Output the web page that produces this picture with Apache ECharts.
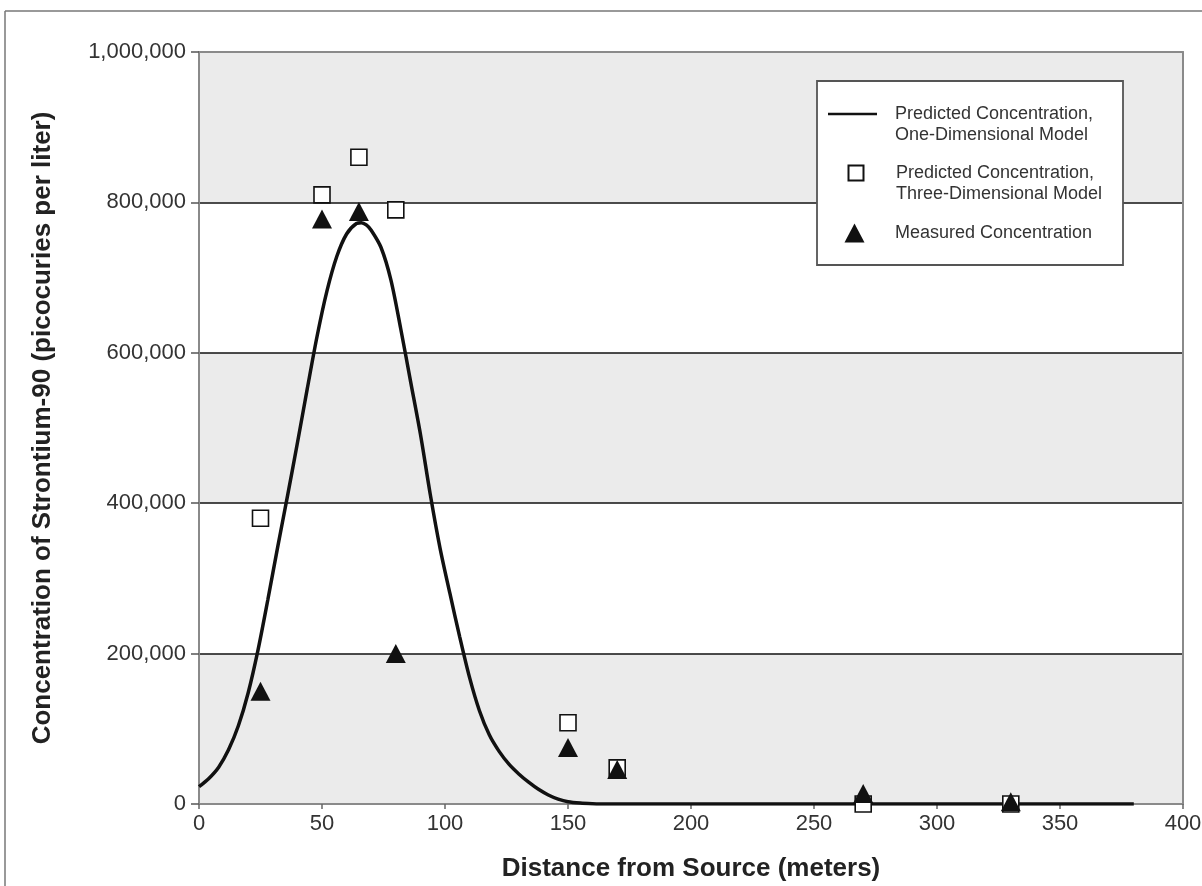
<!DOCTYPE html>
<html>
<head>
<meta charset="utf-8">
<script src="https://cdn.jsdelivr.net/npm/echarts@6/dist/echarts.min.js"></script>
<style>
html,body{margin:0;padding:0;background:#fff;}
#chart{width:1202px;height:886px;}
</style>
</head>
<body>
<div id="chart"></div>
<script>
// ---- data ----
const curveX = [0,4,8,12,16,20,24,28,32,36,40,44,48,52,56,60,64,66,68,70,74,78,82,86,90,94,98,102,106,110,114,118,122,126,130,134,138,142,146,150,155,160,165,380];
const curveY = [23000,34000,49000,72000,104000,148000,205000,272000,342000,410000,480000,552000,622000,682000,728000,758000,772000,773000,770000,763000,740000,697000,632000,562000,492000,412000,340000,280000,222000,168000,124000,92000,70000,53000,40000,29000,19500,12000,6500,3000,1200,400,0,0];
const squareX = [25,50,65,80,150,170,270,330];
const squareY = [380000,810000,860000,790000,108000,48000,0,0];
const triX = [25,50,65,80,150,170,270,330];
const triY = [150000,778000,788000,200000,75000,46000,14000,3000];
const yTickLabels = ['0','200,000','400,000','600,000','800,000','1,000,000'];
const xTickLabels = ['0','50','100','150','200','250','300','350','400'];
const seriesNames = ['Predicted Concentration, One-Dimensional Model','Predicted Concentration, Three-Dimensional Model','Measured Concentration'];
const legendTexts = [['Predicted Concentration,','One-Dimensional Model'],['Predicted Concentration,','Three-Dimensional Model'],['Measured Concentration']];
const xTitle = 'Distance from Source (meters)';
const yTitle = 'Concentration of Strontium-90 (picocuries per liter)';

const font = "'Liberation Sans', Arial, sans-serif";
const zip = (a,b) => a.map((v,i)=>[v,b[i]]);

const chart = echarts.init(document.getElementById('chart'), null, {renderer:'canvas'});
const legendText = {fontSize:18, color:'#333', fontFamily:font, lineHeight:21};
chart.setOption({
  animation:false,
  backgroundColor:'#fff',
  grid:{left:199,right:19,top:52,bottom:82,show:false,containLabel:false,outerBoundsMode:'none'},
  xAxis:[{
    type:'value',min:0,max:400,interval:50,position:'bottom',
    axisLine:{show:true,onZero:false,lineStyle:{color:'#8a8a8a',width:2}},
    axisTick:{show:true,length:5,lineStyle:{color:'#666',width:1.5}},
    axisLabel:{fontSize:22,color:'#333',fontFamily:font,margin:9,
      formatter:(v)=>xTickLabels[Math.round(v/50)]},
    splitLine:{show:false},
    name:xTitle,nameLocation:'middle',nameGap:52,
    nameTextStyle:{fontSize:26,fontWeight:'bold',color:'#222',fontFamily:font}
  },{
    type:'value',min:0,max:400,position:'top',
    axisLine:{show:true,onZero:false,lineStyle:{color:'#8a8a8a',width:2}},
    axisTick:{show:false},axisLabel:{show:false},splitLine:{show:false}
  }],
  yAxis:[{
    type:'value',min:0,max:1000000,interval:200000,position:'left',
    axisLine:{show:true,onZero:false,lineStyle:{color:'#8a8a8a',width:2}},
    axisTick:{show:true,length:8,lineStyle:{color:'#555',width:1.5}},
    axisLabel:{fontSize:22,color:'#333',fontFamily:font,margin:13,
      formatter:(v)=>yTickLabels[Math.round(v/200000)]},
    splitLine:{show:true,showMinLine:false,showMaxLine:false,lineStyle:{color:'#111',width:1.5}},
    splitArea:{show:true,areaStyle:{color:['#ebebeb','#ffffff']}},
    name:yTitle,nameLocation:'middle',nameGap:143,
    nameTextStyle:{fontSize:26,fontWeight:'bold',color:'#222',fontFamily:font}
  },{
    type:'value',min:0,max:1000000,position:'right',
    axisLine:{show:true,onZero:false,lineStyle:{color:'#8a8a8a',width:2}},
    axisTick:{show:false},axisLabel:{show:false},splitLine:{show:false},splitArea:{show:false}
  }],
  legend:[{
    data:[{name:seriesNames[0],icon:'rect'}],left:828,top:82.5,padding:0,itemWidth:49,itemHeight:2.5,z:10,
    formatter:()=> '\n'+legendTexts[0].join('\n'),
    itemStyle:{color:'#111',borderWidth:0},
    textStyle:Object.assign({padding:[0,0,0,13]},legendText)
  },{
    data:[seriesNames[1]],left:847.5,top:141.5,padding:0,itemWidth:15,itemHeight:15,z:10,
    formatter:()=> '\n'+legendTexts[1].join('\n'),
    textStyle:Object.assign({padding:[0,0,0,27.5]},legendText)
  },{
    data:[seriesNames[2]],left:844.5,top:222.5,padding:0,itemWidth:20,itemHeight:19,z:10,
    formatter:()=> legendTexts[2][0],
    textStyle:Object.assign({padding:[0,0,0,25.5]},legendText)
  }],
  graphic:[
    {type:'line',shape:{x1:5,y1:11,x2:1202,y2:11},style:{stroke:'#777',lineWidth:1.5},z:1},
    {type:'line',shape:{x1:5,y1:11,x2:5,y2:886},style:{stroke:'#777',lineWidth:1.5},z:1},
    {type:'rect',shape:{x:817,y:81,width:306,height:184},style:{fill:'#fff',stroke:'#555',lineWidth:1.8},z:5}
  ],
  series:[{
    name:seriesNames[0],type:'line',data:zip(curveX,curveY),
    symbol:'none',smooth:0.3,z:2,
    lineStyle:{color:'#111',width:3.5},itemStyle:{color:'#111'}
  },{
    name:seriesNames[1],type:'scatter',data:zip(squareX,squareY),
    symbol:'rect',symbolSize:16,z:3,
    itemStyle:{color:'#fff',borderColor:'#111',borderWidth:1.6,opacity:1}
  },{
    name:seriesNames[2],type:'scatter',data:zip(triX,triY),
    symbol:'triangle',symbolSize:[20,19],z:4,
    itemStyle:{color:'#111',opacity:1}
  }]
});
</script>
</body>
</html>
